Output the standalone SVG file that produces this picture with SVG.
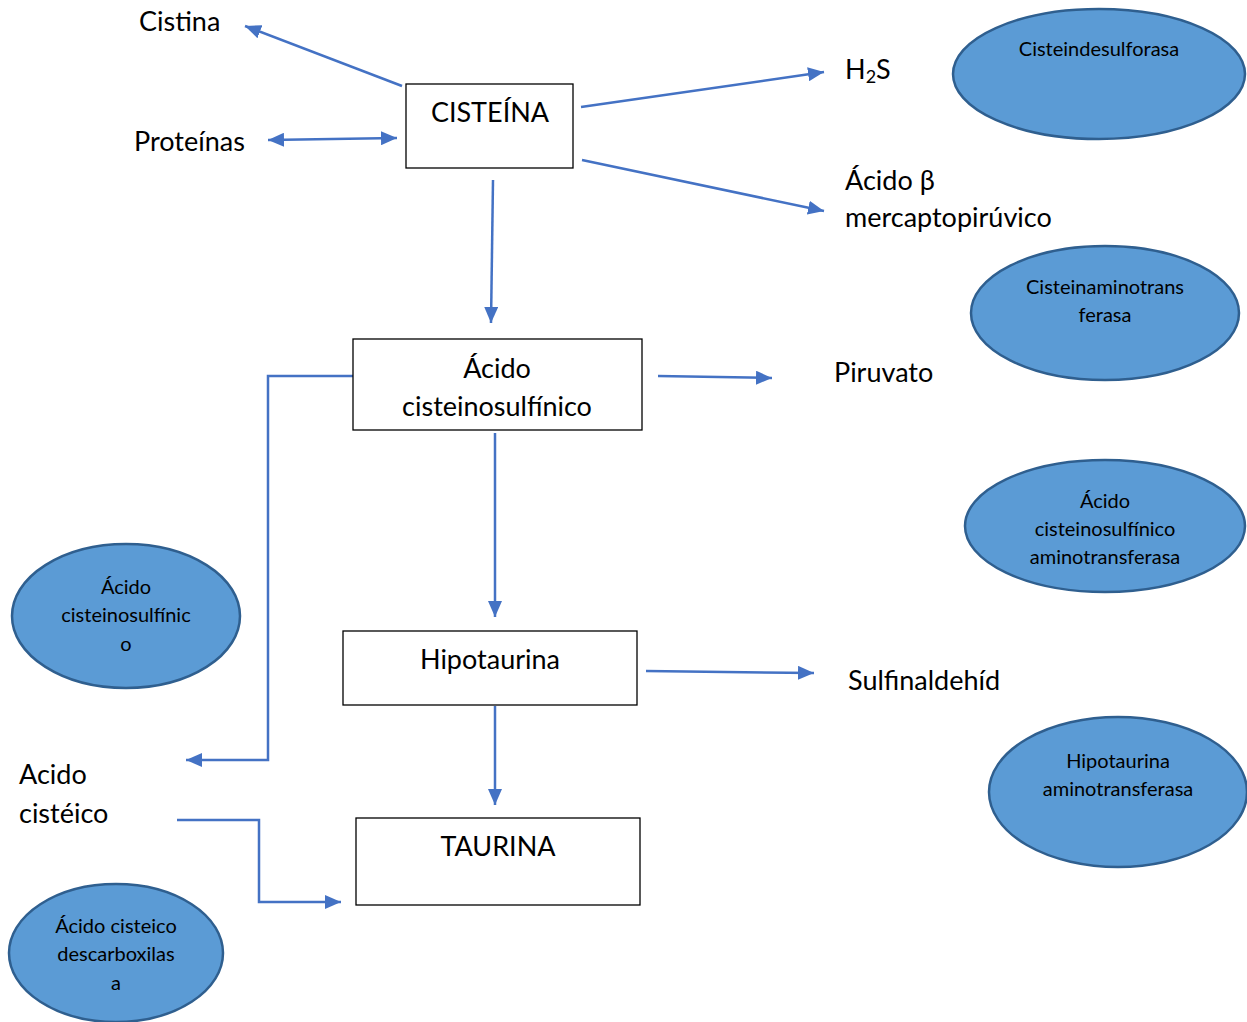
<svg xmlns="http://www.w3.org/2000/svg" width="1247" height="1022" viewBox="0 0 1247 1022">
<defs>
<marker id="ah" markerUnits="userSpaceOnUse" markerWidth="18" markerHeight="14" refX="16" refY="7" orient="auto-start-reverse">
<path d="M0,0 L16,7 L0,14 Z" fill="#4472C4"/>
</marker>
<style>
.lbl{font-family:Lato,"Liberation Sans",sans-serif;font-size:27px;fill:#000}
.sm{font-family:Lato,"Liberation Sans",sans-serif;font-size:20px;fill:#000;text-anchor:middle}
.box{fill:#fff;stroke:#000;stroke-width:1.3}
.enz{fill:#5B9BD5;stroke:#2F5F8F;stroke-width:2.5}
.con{fill:none;stroke:#4472C4;stroke-width:2.5}
.arr{marker-end:url(#ah)}
</style>
</defs>
<rect width="1247" height="1022" fill="#fff"/>
<g id="connectors">
<line class="con arr" x1="402" y1="86" x2="245" y2="26"/>
<line class="con arr" x1="268" y1="140" x2="397" y2="138" style="marker-start:url(#ah)"/>
<line class="con arr" x1="581" y1="107" x2="824" y2="72"/>
<line class="con arr" x1="582" y1="160" x2="824" y2="211"/>
<line class="con arr" x1="493" y1="180" x2="491" y2="323"/>
<line class="con arr" x1="658" y1="376" x2="772" y2="378"/>
<polyline class="con arr" points="353,376 268,376 268,760 186,760"/>
<line class="con arr" x1="495" y1="433" x2="495" y2="617"/>
<line class="con arr" x1="646" y1="671" x2="814" y2="673"/>
<line class="con arr" x1="495" y1="706" x2="495" y2="805"/>
<polyline class="con arr" points="177,820 259,820 259,902 341,902"/>
</g>
<g id="cistina"><text class="lbl" x="139" y="31">Cistina</text></g>
<g id="proteinas"><text class="lbl" x="134" y="151">Proteínas</text></g>
<g id="cisteina"><rect class="box" x="406" y="84" width="167" height="84"/><text class="lbl" x="490" y="122" text-anchor="middle">CISTEÍNA</text></g>
<g id="h2s"><text class="lbl" x="845" y="79">H<tspan font-size="18" dy="4">2</tspan><tspan dy="-4">S</tspan></text></g>
<g id="mercapto"><text class="lbl" x="845" y="190">Ácido β</text><text class="lbl" x="845" y="227">mercaptopirúvico</text></g>
<g id="enz-desulf"><ellipse class="enz" cx="1099" cy="74" rx="146" ry="65"/><text class="sm" x="1099" y="56">Cisteindesulforasa</text></g>
<g id="acido-cisteinosulfinico"><rect class="box" x="353" y="339" width="289" height="91"/><text class="lbl" x="497" y="378" text-anchor="middle">Ácido</text><text class="lbl" x="497" y="416" text-anchor="middle">cisteinosulfínico</text></g>
<g id="enz-amino"><ellipse class="enz" cx="1105" cy="313" rx="134" ry="67"/><text class="sm" x="1105" y="294">Cisteinaminotrans</text><text class="sm" x="1105" y="322">ferasa</text></g>
<g id="piruvato"><text class="lbl" x="834" y="382">Piruvato</text></g>
<g id="enz-acs-amino"><ellipse class="enz" cx="1105" cy="526" rx="140" ry="66"/><text class="sm" x="1105" y="508">Ácido</text><text class="sm" x="1105" y="536">cisteinosulfínico</text><text class="sm" x="1105" y="564">aminotransferasa</text></g>
<g id="enz-acs"><ellipse class="enz" cx="126" cy="616" rx="114" ry="72"/><text class="sm" x="126" y="594">Ácido</text><text class="sm" x="126" y="622">cisteinosulfínic</text><text class="sm" x="126" y="651">o</text></g>
<g id="hipotaurina"><rect class="box" x="343" y="631" width="294" height="74"/><text class="lbl" x="490" y="669" text-anchor="middle">Hipotaurina</text></g>
<g id="sulfinaldehid"><text class="lbl" x="848" y="690">Sulfinaldehíd</text></g>
<g id="enz-hipo"><ellipse class="enz" cx="1118" cy="792" rx="129" ry="75"/><text class="sm" x="1118" y="768">Hipotaurina</text><text class="sm" x="1118" y="796">aminotransferasa</text></g>
<g id="taurina"><rect class="box" x="356" y="818" width="284" height="87"/><text class="lbl" x="498" y="856" text-anchor="middle">TAURINA</text></g>
<g id="acido-cisteico"><text class="lbl" x="19" y="784">Acido</text><text class="lbl" x="19" y="823">cistéico</text></g>
<g id="enz-decarb"><ellipse class="enz" cx="116" cy="953" rx="107" ry="69"/><text class="sm" x="116" y="933">Ácido cisteico</text><text class="sm" x="116" y="961">descarboxilas</text><text class="sm" x="116" y="990">a</text></g>
</svg>
